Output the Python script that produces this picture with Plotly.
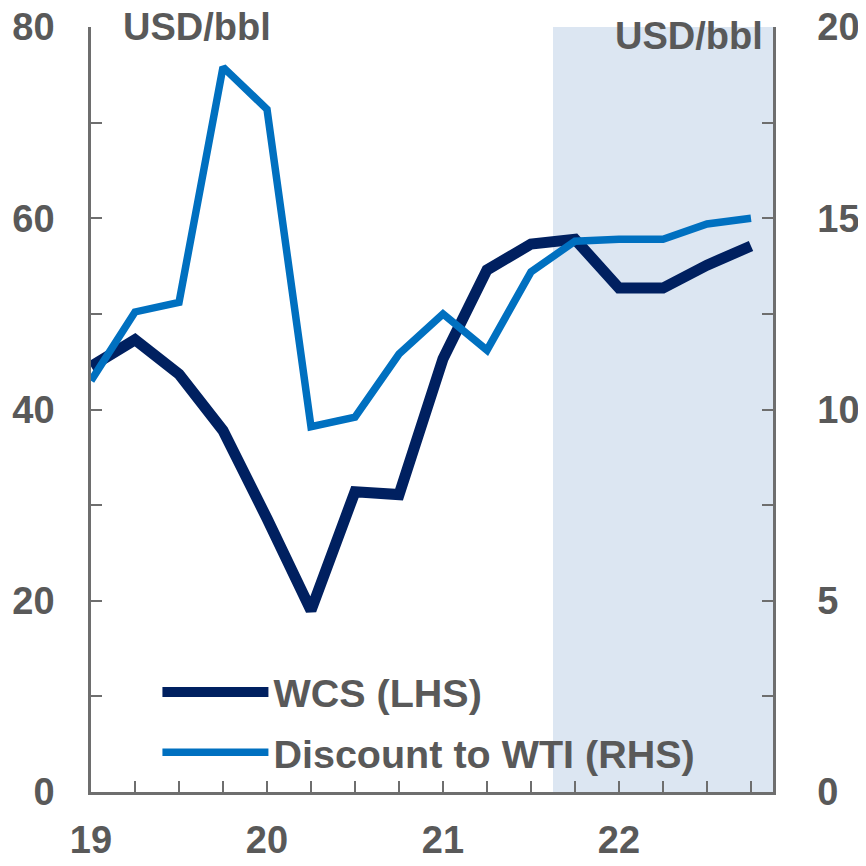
import plotly.graph_objects as go

quarters = [2019.0, 2019.25, 2019.5, 2019.75, 2020.0, 2020.25, 2020.5, 2020.75,
            2021.0, 2021.25, 2021.5, 2021.75, 2022.0, 2022.25, 2022.5, 2022.75]
wcs = [44.5, 47.3, 43.7, 37.8, 28.6, 19.0, 31.4, 31.1,
       45.3, 54.6, 57.3, 57.8, 52.7, 52.7, 55.1, 57.1]
discount = [10.75, 12.55, 12.8, 18.95, 17.85, 9.55, 9.8, 11.45,
            12.5, 11.55, 13.6, 14.4, 14.45, 14.45, 14.85, 15.0]
year_ticks = [2019, 2020, 2021, 2022]
year_labels = ["19", "20", "21", "22"]
forecast_start = 2021.625
x_end = 2022.875

GRAY = "#595959"
AXIS = "#6e6e6e"
FONT = dict(family="Liberation Sans, Arial, sans-serif", size=38, color=GRAY, weight="bold")
LFONT = dict(family="Liberation Sans, Arial, sans-serif", size=39.5, color=GRAY, weight="bold")

fig = go.Figure()
fig.add_trace(go.Scatter(x=quarters, y=wcs, name="WCS (LHS)", mode="lines", legendgroup="a",
                         line=dict(color="#002060", width=11), yaxis="y"))
fig.add_trace(go.Scatter(x=quarters, y=discount, name="Discount to WTI (RHS)", mode="lines",
                         legendgroup="b",
                         line=dict(color="#0070C0", width=7.5), yaxis="y2"))

fig.add_shape(type="rect", xref="x", yref="paper", x0=forecast_start, x1=x_end, y0=0, y1=1,
              fillcolor="#DCE6F2", line=dict(width=0), layer="below")

common = dict(ticks="inside", ticklen=11, tickwidth=2, tickcolor=AXIS, showline=True,
              linecolor=AXIS, linewidth=2.5, showgrid=False, zeroline=False, automargin=False,
              ticklabeloverflow="allow")

fig.update_layout(
    width=866, height=866,
    margin=dict(l=83, r=101, t=19, b=82),
    paper_bgcolor="white", plot_bgcolor="white",
    font=FONT,
    showlegend=True,
    legend=dict(x=0.0974, y=0.1728, xanchor="left", yanchor="top", bgcolor="rgba(0,0,0,0)",
                font=LFONT, itemwidth=106, tracegroupgap=6),
    xaxis=dict(range=[2019, x_end], tickvals=year_ticks, ticktext=year_labels,
               ticklabelstandoff=13,
               minor=dict(dtick=0.25, tick0=2019, ticks="inside", ticklen=11, tickwidth=2,
                          tickcolor=AXIS, showgrid=False), **common),
    yaxis=dict(range=[0, 80], dtick=20, ticklabelstandoff=26,
               minor=dict(dtick=10, ticks="inside", ticklen=11, tickwidth=2, tickcolor=AXIS,
                          showgrid=False), **common),
    yaxis2=dict(range=[0, 20], dtick=5, overlaying="y", side="right", ticklabelstandoff=34,
                minor=dict(dtick=2.5, ticks="inside", ticklen=11, tickwidth=2, tickcolor=AXIS,
                           showgrid=False), **common),
)

fig.add_annotation(text="USD/bbl", xref="paper", yref="paper", x=0, y=1, xanchor="left",
                   yanchor="middle", xshift=30, yshift=0, showarrow=False, font=FONT)
fig.add_annotation(text="USD/bbl", xref="paper", yref="paper", x=1, y=1, xanchor="right",
                   yanchor="middle", xshift=-8, yshift=-9, showarrow=False, font=FONT)

fig.write_html("out.html")
